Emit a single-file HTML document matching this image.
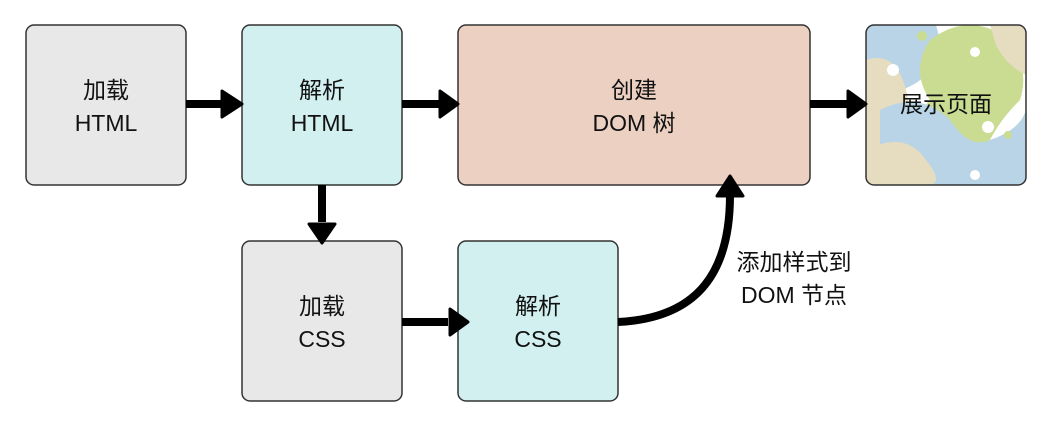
<!DOCTYPE html>
<html><head><meta charset="utf-8"><style>
html,body{margin:0;padding:0;background:#fff;}
svg{display:block;}
text{font-family:"Liberation Sans","Noto Sans CJK SC",sans-serif;font-size:23px;fill:#111;text-anchor:middle;}
</style></head><body>
<svg width="1048" height="424" viewBox="0 0 1048 424" xmlns="http://www.w3.org/2000/svg">
<defs>
<clipPath id="c"><rect x="866" y="25" width="160" height="160" rx="8"/></clipPath>
</defs>
<g stroke="#333" stroke-width="1.5">
<rect x="26" y="25" width="160" height="160" rx="8" fill="#e8e8e8"/>
<rect x="242" y="25" width="160" height="160" rx="8" fill="#d2f0f0"/>
<rect x="458" y="25" width="352" height="160" rx="8" fill="#ecd0c2"/>
<rect x="242" y="241" width="160" height="160" rx="8" fill="#e8e8e8"/>
<rect x="458" y="241" width="160" height="160" rx="8" fill="#d2f0f0"/>
</g>
<g clip-path="url(#c)">
<rect x="866" y="25" width="160" height="160" fill="#fff"/>
<path d="M866 25 h70 q10 30 -10 50 q-20 20 -60 20z" fill="#b9d4e6"/>
<path d="M866 60 q30 -10 40 30 q10 40 -20 60 q-10 20 -20 35z" fill="#e6dcc0"/>
<path d="M930 40 q40 -30 80 0 q20 30 10 60 q-20 20 -30 40 q-30 30 -60 10 q-20 -30 0 -50 q-20 -30 0 -60z" fill="#c9dc92"/>
<path d="M880 110 q40 -20 70 10 q20 30 40 20 q30 -10 36 -30 v85 h-100 q-20 -30 -46 -40z" fill="#b9d4e6"/>
<path d="M866 150 q40 -20 60 10 q20 25 0 25 h-60z" fill="#e6dcc0"/>
<path d="M990 25 h36 v50 q-20 -10 -30 -30z" fill="#e6dcc0"/>
<circle cx="893" cy="70" r="6" fill="#fff"/><circle cx="975" cy="52" r="5" fill="#fff"/>
<circle cx="988" cy="127" r="6" fill="#fff"/><circle cx="1008" cy="135" r="4" fill="#c9dc92"/>
<circle cx="975" cy="175" r="5" fill="#fff"/><circle cx="922" cy="36" r="5" fill="#c9dc92"/>
</g>
<rect x="866" y="25" width="160" height="160" rx="8" fill="none" stroke="#333" stroke-width="1.5"/>
<g stroke="#000" stroke-width="8" fill="none">
<line x1="186" y1="104" x2="222" y2="104"/>
<line x1="402" y1="104" x2="440" y2="104"/>
<line x1="810" y1="104" x2="848" y2="104"/>
<line x1="322" y1="185" x2="322" y2="222"/>
<line x1="402" y1="322" x2="448" y2="322"/>
<path d="M618 322 C700 318 730 270 730 195"/>
</g>
<g fill="#000" stroke="#000" stroke-width="3" stroke-linejoin="round">
<path d="M222 91 L242 104 L222 117 z"/>
<path d="M440 91 L458 104 L440 117 z"/>
<path d="M848 91 L866 104 L848 117 z"/>
<path d="M309 224 L322 243 L335 224 z"/>
<path d="M450 309 L468 322 L450 335 z"/>
<path d="M717 196 L730 176 L743 196 z"/>
</g>
<text x="106" y="98">加载</text><text x="106" y="131">HTML</text>
<text x="322" y="98">解析</text><text x="322" y="131">HTML</text>
<text x="634" y="98">创建</text><text x="634" y="131">DOM 树</text>
<text x="946" y="112">展示页面</text>
<text x="322" y="314">加载</text><text x="322" y="347">CSS</text>
<text x="538" y="314">解析</text><text x="538" y="347">CSS</text>
<text x="794" y="270">添加样式到</text><text x="794" y="303">DOM 节点</text>
</svg>
</body></html>
